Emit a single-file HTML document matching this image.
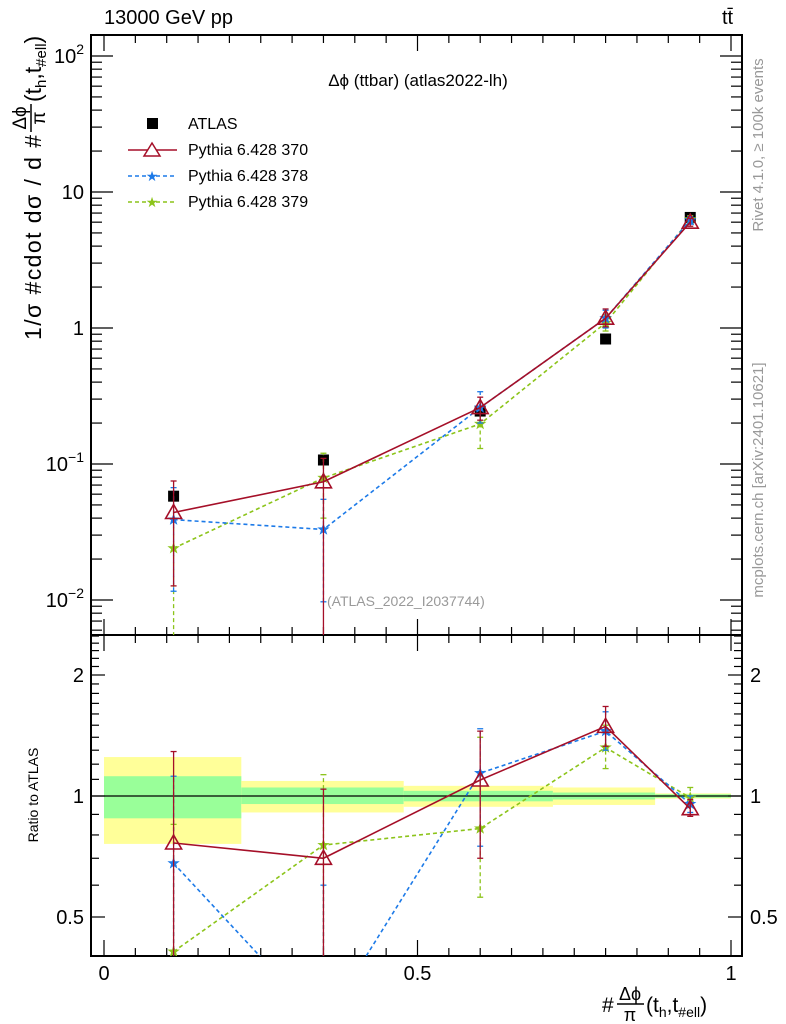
<!DOCTYPE html>
<html><head><meta charset="utf-8"><style>
html,body{margin:0;padding:0;background:#fff;}
svg{display:block;font-family:"Liberation Sans",sans-serif;}
</style></head><body>
<svg id="chart" width="786" height="1024" viewBox="0 0 786 1024" xmlns="http://www.w3.org/2000/svg">
<g id="bands"></g>
<g id="axes"></g>
<g id="series"></g>
<g id="labels">
<text x="104" y="24" font-size="20">13000 GeV pp</text>
<text x="722" y="24" font-size="20">tt̄</text>
<text x="418" y="86" font-size="17" text-anchor="middle">Δϕ (ttbar) (atlas2022-lh)</text>
<text x="327" y="606" font-size="14" fill="#999">(ATLAS_2022_I2037744)</text>
<text transform="translate(763,145) rotate(-90)" font-size="15" fill="#999" text-anchor="middle">Rivet 4.1.0, ≥ 100k events</text>
<text transform="translate(763,480) rotate(-90)" font-size="15" fill="#999" text-anchor="middle">mcplots.cern.ch [arXiv:2401.10621]</text>
<g transform="translate(41,340) rotate(-90)">
<text x="0" y="0" font-size="23" textLength="205" lengthAdjust="spacing">1/σ #cdot dσ / d #</text>
<text x="222" y="-15" font-size="19" text-anchor="middle">Δϕ</text>
<line x1="208" y1="-10" x2="236" y2="-10" stroke="#000" stroke-width="1.5"/>
<text x="222" y="4" font-size="19" text-anchor="middle">π</text>
<text x="238" y="0" font-size="23">(t<tspan font-size="15" dy="5">h</tspan><tspan dy="-5">,t</tspan><tspan font-size="15" dy="5">#ell</tspan><tspan dy="-5">)</tspan></text>
</g>
<text transform="translate(38,795) rotate(-90)" font-size="14" text-anchor="middle">Ratio to ATLAS</text>
<g>
<text x="602" y="1012" font-size="21">#</text>
<text x="630" y="1000" font-size="18" text-anchor="middle">Δϕ</text>
<line x1="617" y1="1004" x2="644" y2="1004" stroke="#000" stroke-width="1.5"/>
<text x="630" y="1021" font-size="18" text-anchor="middle">π</text>
<text x="646" y="1012" font-size="21">(t<tspan font-size="14" dy="5">h</tspan><tspan dy="-5">,t</tspan><tspan font-size="14" dy="5">#ell</tspan><tspan dy="-5">)</tspan></text>
</g>
</g>
<g id="legend">
<rect x="147" y="118" width="11" height="11" fill="#000"/>
<text x="188" y="129" font-size="16">ATLAS</text>
<line x1="128" y1="150" x2="177" y2="150" stroke="#a50f28" stroke-width="1.5"/>
<polygon points="152,143 160,156 144,156" fill="#fff" stroke="#a50f28" stroke-width="1.5"/>
<text x="188" y="155" font-size="16">Pythia 6.428 370</text>
<line x1="128" y1="176" x2="177" y2="176" stroke="#1c7ae8" stroke-width="1.5" stroke-dasharray="4,3"/>
<text x="152" y="181" font-size="14" fill="#1c7ae8" text-anchor="middle">★</text>
<text x="188" y="181" font-size="16">Pythia 6.428 378</text>
<line x1="128" y1="202" x2="177" y2="202" stroke="#8cc41a" stroke-width="1.5" stroke-dasharray="4,3"/>
<text x="152" y="207" font-size="14" fill="#8cc41a" text-anchor="middle">★</text>
<text x="188" y="207" font-size="16">Pythia 6.428 379</text>
</g>
</svg>
<script>
// ---- data ----
const xCenters = [0.111, 0.35, 0.6, 0.8, 0.935];
const binEdges = [0, 0.219, 0.478, 0.716, 0.879, 1.0];
const atlasVals = [0.058, 0.107, 0.245, 0.83, 6.5];
const p370Vals = [0.044, 0.074, 0.26, 1.18, 6.0];
const p370Lo = [0.0127, 0.003, 0.21, 1.02, 5.6];
const p370Hi = [0.075, 0.11, 0.31, 1.38, 6.4];
const p378Vals = [0.039, 0.033, 0.26, 1.18, 6.2];
const p378Lo = [0.0116, 0.0097, 0.2, 1.0, 5.8];
const p378Hi = [0.067, 0.055, 0.34, 1.35, 6.6];
const p379Vals = [0.024, 0.079, 0.197, 1.09, 6.3];
const p379Lo = [0.003, 0.04, 0.13, 0.95, 5.9];
const p379Hi = [0.04, 0.12, 0.26, 1.25, 6.7];
const r370Vals = [0.764, 0.70, 1.096, 1.49, 0.93];
const r370Lo = [0.3, 0.3, 0.7, 1.33, 0.89];
const r370Hi = [1.29, 1.04, 1.45, 1.67, 0.98];
const r378Vals = [0.68, 0.27, 1.14, 1.45, 0.955];
const r378Lo = [0.3, 0.3, 0.75, 1.30, 0.91];
const r378Hi = [1.12, 0.6, 1.47, 1.62, 1.0];
const r379Vals = [0.41, 0.755, 0.83, 1.32, 0.99];
const r379Lo = [0.3, 0.3, 0.56, 1.17, 0.95];
const r379Hi = [0.85, 1.13, 1.4, 1.5, 1.05];
const bandInnerHi = [1.12, 1.05, 1.03, 1.02, 1.01];
const bandInnerLo = [0.88, 0.955, 0.97, 0.98, 0.99];
const bandOuterHi = [1.25, 1.09, 1.06, 1.05, 1.015];
const bandOuterLo = [0.76, 0.91, 0.94, 0.95, 0.985];
const mainTickBase = ["10", "10", "1", "10", "10"];
const mainTickExp = ["−2", "−1", "", "", "2"];
const ratioTickVals = [0.5, 1, 2];
const xTickVals = [0, 0.5, 1];

// ---- geometry ----
const L = 91, R = 742, T = 35, MB = 635, RB = 956;
const X = v => 104 + v * 627;
const Y = v => 328 - 136 * Math.log10(v);
const YR = v => 796 - 121 * Math.log2(v);
const NS = "http://www.w3.org/2000/svg";
function mk(tag, attrs, parent) {
  const e = document.createElementNS(NS, tag);
  for (const k in attrs) e.setAttribute(k, attrs[k]);
  parent.appendChild(e);
  return e;
}
const axes = document.getElementById('axes');
const bands = document.getElementById('bands');
const series = document.getElementById('series');

for (let i = 0; i < 5; i++) {
  const xa = X(binEdges[i]), xb = X(binEdges[i + 1]);
  const o = mk('rect', {x: xa, y: YR(bandOuterHi[i]), width: xb - xa, height: YR(bandOuterLo[i]) - YR(bandOuterHi[i]), fill: '#ffff99'}, bands);
  
  
  const n = mk('rect', {x: xa, y: YR(bandInnerHi[i]), width: xb - xa, height: YR(bandInnerLo[i]) - YR(bandInnerHi[i]), fill: '#99ff99'}, bands);
  
  
}
const ref = mk('line', {x1: L, x2: R, y1: YR(1), y2: YR(1), stroke: '#000', 'stroke-width': 1.2}, bands);



const f1 = mk('rect', {x: L, y: T, width: R - L, height: MB - T, fill: 'none', stroke: '#000', 'stroke-width': 2}, axes);


const f2 = mk('rect', {x: L, y: MB, width: R - L, height: RB - MB, fill: 'none', stroke: '#000', 'stroke-width': 2}, axes);



for (let i = 0; i <= 20; i++) {
  const v = i * 0.05, x = X(v), len = (i % 10 === 0) ? 16 : 8;
  for (const [yb, yt] of [[MB, T], [RB, MB]]) {
    mk('line', {x1: x, x2: x, y1: yb, y2: yb - len, stroke: '#000', 'stroke-width': 1.2}, axes);
    mk('line', {x1: x, x2: x, y1: yt, y2: yt + len, stroke: '#000', 'stroke-width': 1.2}, axes);
  }
}
xTickVals.forEach(v => {
  const t = mk('text', {x: X(v), y: 980, 'font-size': 20, 'text-anchor': 'middle'}, axes);
  t.textContent = String(v);
  
  
});

for (let d = -3; d <= 2; d++) {
  for (let m = 1; m <= 9; m++) {
    const v = m * Math.pow(10, d), y = Y(v);
    if (y < T || y > MB) continue;
    const len = m === 1 ? 22 : 11;
    mk('line', {x1: L, x2: L + len, y1: y, y2: y, stroke: '#000', 'stroke-width': 1.2}, axes);
    mk('line', {x1: R, x2: R - len, y1: y, y2: y, stroke: '#000', 'stroke-width': 1.2}, axes);
  }
}
mainTickBase.forEach((s, i) => {
  const t = mk('text', {x: 84, y: Y(Math.pow(10, i - 2)) + 7, 'font-size': 20, 'text-anchor': 'end'}, axes);
  t.appendChild(document.createTextNode(s));
  if (mainTickExp[i]) {
    const sp = mk('tspan', {'font-size': 14, dy: -9}, t);
    sp.textContent = mainTickExp[i];
  }
  
  
});

const rMinor = [0.4, 0.5, 0.6, 0.7, 0.8, 0.9, 1, 1.1, 1.2, 1.3, 1.4, 1.5, 1.6, 1.7, 1.8, 1.9, 2, 2.1, 2.2, 2.3, 2.4, 2.5];
rMinor.forEach(v => {
  const y = YR(v);
  if (y < MB || y > RB) return;
  const len = ratioTickVals.includes(v) ? 14 : 8;
  mk('line', {x1: L, x2: L + len, y1: y, y2: y, stroke: '#000', 'stroke-width': 1.2}, axes);
  mk('line', {x1: R, x2: R - len, y1: y, y2: y, stroke: '#000', 'stroke-width': 1.2}, axes);
});
ratioTickVals.forEach(v => {
  const t = mk('text', {x: 84, y: YR(v) + 7, 'font-size': 20, 'text-anchor': 'end'}, axes);
  t.textContent = String(v);
  
  
  const t2 = mk('text', {x: 750, y: YR(v) + 7, 'font-size': 20}, axes);
  t2.textContent = String(v);
  
  
});

const defs = mk('defs', {}, series);
const c1 = mk('clipPath', {id: 'clipMain'}, defs);
mk('rect', {x: L, y: T, width: R - L, height: MB - T}, c1);
const c2 = mk('clipPath', {id: 'clipRatio'}, defs);
mk('rect', {x: L, y: MB, width: R - L, height: RB - MB}, c2);

function star(g, x, y, col) {
  const pts = [];
  for (let k = 0; k < 10; k++) {
    const r = k % 2 ? 2.6 : 6.5, a = -Math.PI / 2 + k * Math.PI / 5;
    pts.push((x + r * Math.cos(a)).toFixed(1) + ',' + (y + r * Math.sin(a)).toFixed(1));
  }
  mk('polygon', {points: pts.join(' '), fill: col}, g);
}
function tri(g, x, y, col) {
  mk('polygon', {points: `${x},${y - 8} ${x + 8},${y + 6} ${x - 8},${y + 6}`, fill: 'none', stroke: col, 'stroke-width': 1.6}, g);
}
function drawSeries(name, vals, lo, hi, yf, col, dash, marker, clip) {
  const g = mk('g', {'clip-path': `url(#${clip})`}, series);
  
  
  vals.forEach((v, i) => {
    const x = X(xCenters[i]);
    mk('line', {x1: x, x2: x, y1: yf(lo[i]), y2: yf(hi[i]), stroke: col, 'stroke-width': 1.3, 'stroke-dasharray': dash}, g);
    mk('line', {x1: x - 3, x2: x + 3, y1: yf(lo[i]), y2: yf(lo[i]), stroke: col, 'stroke-width': 1.3}, g);
    mk('line', {x1: x - 3, x2: x + 3, y1: yf(hi[i]), y2: yf(hi[i]), stroke: col, 'stroke-width': 1.3}, g);
  });
  const pts = vals.map((v, i) => X(xCenters[i]) + ',' + yf(v)).join(' ');
  mk('polyline', {points: pts, fill: 'none', stroke: col, 'stroke-width': 1.6, 'stroke-dasharray': dash}, g);
  vals.forEach((v, i) => marker(g, X(xCenters[i]), yf(v), col));
}
const ga = mk('g', {'clip-path': 'url(#clipMain)'}, series);


atlasVals.forEach((v, i) => {
  mk('rect', {x: X(xCenters[i]) - 5.5, y: Y(v) - 5.5, width: 11, height: 11, fill: '#000'}, ga);
});
drawSeries('series-379', p379Vals, p379Lo, p379Hi, Y, '#8cc41a', '4,3', star, 'clipMain');
drawSeries('series-378', p378Vals, p378Lo, p378Hi, Y, '#1c7ae8', '4,3', star, 'clipMain');
drawSeries('series-370', p370Vals, p370Lo, p370Hi, Y, '#a50f28', '', tri, 'clipMain');
drawSeries('ratio-379', r379Vals, r379Lo, r379Hi, YR, '#8cc41a', '4,3', star, 'clipRatio');
drawSeries('ratio-378', r378Vals, r378Lo, r378Hi, YR, '#1c7ae8', '4,3', star, 'clipRatio');
drawSeries('ratio-370', r370Vals, r370Lo, r370Hi, YR, '#a50f28', '', tri, 'clipRatio');
</script>
</body></html>
